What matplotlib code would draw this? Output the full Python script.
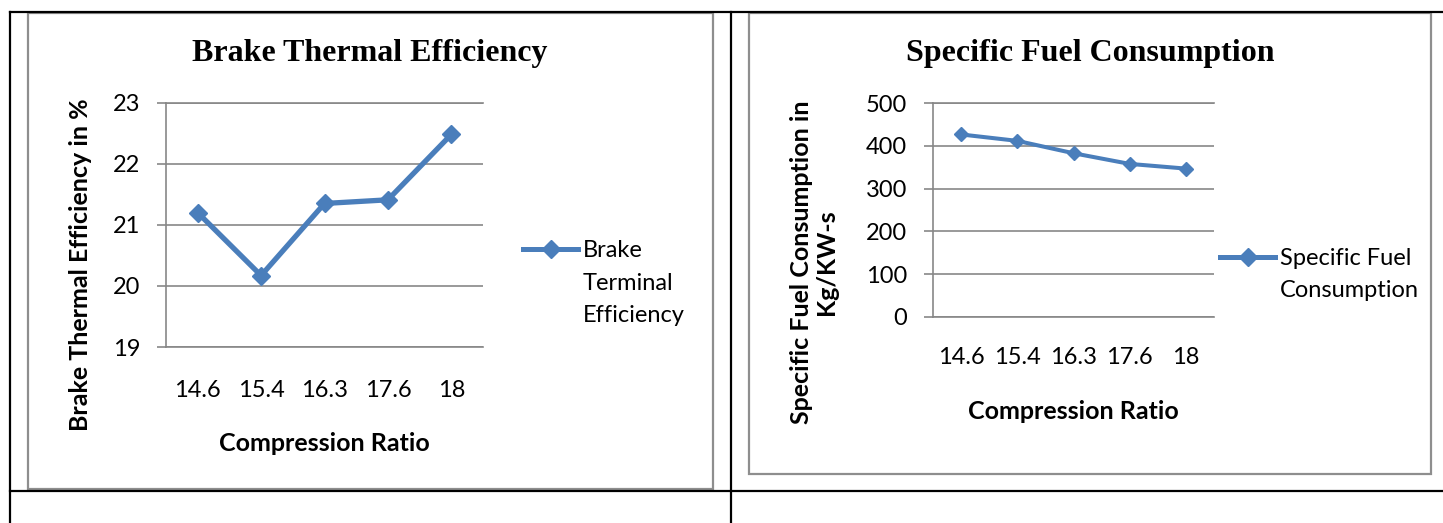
import matplotlib
matplotlib.use('Agg')
import matplotlib.pyplot as plt
from matplotlib.lines import Line2D
from matplotlib.patches import Rectangle

# data
ratios = ['14.6', '15.4', '16.3', '17.6', '18']
bte_values = [21.2, 20.17, 21.35, 21.41, 22.48]
sfc_values = [427, 412, 383, 358, 347]

W, H = 1443, 523
BLUE = '#4a7ebb'
GRID = '#878787'
plt.rcParams['font.family'] = ['Lato', 'DejaVu Sans']

fig = plt.figure(figsize=(W / 100, H / 100), dpi=100)


# add axes from pixel box (top-left origin)
def px_axes(x0, y0, x1, y1):
    return fig.add_axes([x0 / W, 1 - y1 / H, (x1 - x0) / W, (y1 - y0) / H])


def fx(x):
    return x / W


def fy(y):
    return 1 - y / H


# word table lines
for xs, ys in [([10, 10], [12, 523]), ([731, 731], [12, 523]),
               ([10, 1443], [12, 12]), ([10, 1443], [491, 491])]:
    fig.lines.append(Line2D([fx(v) for v in xs], [fy(v) for v in ys], color='black',
                            lw=1.6, transform=fig.transFigure))

# chart frames
for x0, y0, x1, y1 in [(28, 13, 713, 489), (749, 13, 1431, 474)]:
    fig.patches.append(Rectangle((fx(x0), fy(y1)), fx(x1) - fx(x0), fy(y0) - fy(y1),
                                 fill=False, ec='#8e8e8e', lw=1.6, transform=fig.transFigure))


def style_axes(ax, ylim, yticks, tick_pad, x_pad):
    ax.set_xlim(-0.5, len(ratios) - 0.5)
    ax.set_ylim(*ylim)
    ax.set_yticks(yticks)
    ax.set_xticks(range(len(ratios)))
    ax.set_xticklabels(ratios)
    ax.yaxis.grid(True, color=GRID, lw=1.2)
    ax.set_axisbelow(True)
    for side in ['top', 'bottom', 'left']:
        ax.spines[side].set_color(GRID)
        ax.spines[side].set_linewidth(1.2)
    ax.spines['right'].set_visible(False)
    ax.tick_params(axis='y', length=6.5, width=1.2, color=GRID, pad=tick_pad, labelsize=17)
    ax.tick_params(axis='x', length=0, pad=x_pad, labelsize=17)


def legend_entry(x0, x1, y, lines, baseline0, step):
    xm = (x0 + x1) / 2
    fig.lines.append(Line2D([fx(x0), fx(xm), fx(x1)], [fy(y)] * 3, color=BLUE, lw=3.6,
                            marker='D', markersize=9, markevery=[1], transform=fig.transFigure))
    for i, s in enumerate(lines):
        fig.text(fx(x1 + 5), fy(baseline0 + i * step), s, fontsize=17, va='baseline', ha='left')


# brake thermal efficiency
ax1 = px_axes(166, 102.7, 483, 347)
style_axes(ax1, (19, 23), [19, 20, 21, 22, 23], 12, 24)
ax1.plot(range(len(ratios)), bte_values, color=BLUE, lw=3.8, marker='D', markersize=9)
ax1.set_xlabel('Compression Ratio', fontsize=18, fontweight='bold', va='center')
ax1.xaxis.set_label_coords(0.5, -0.393)
ax1.set_ylabel('Brake Thermal Efficiency in %', fontsize=18, fontweight='bold', va='center', ha='center')
ax1.yaxis.set_label_coords(-0.27, 0.336)
fig.text(fx(370), fy(54), 'Brake Thermal Efficiency', family='Liberation Serif',
         fontweight='bold', fontsize=23, ha='center', va='center')
legend_entry(523, 578, 249, ['Brake', 'Terminal', 'Efficiency'], 257, 32.5)

# specific fuel consumption
ax2 = px_axes(933, 103.3, 1214, 316.7)
style_axes(ax2, (0, 500), [0, 100, 200, 300, 400, 500], 12, 22)
ax2.plot(range(len(ratios)), sfc_values, color=BLUE, lw=2.9, marker='D', markersize=7.5)
ax2.set_xlabel('Compression Ratio', fontsize=18, fontweight='bold', va='center')
ax2.xaxis.set_label_coords(0.5, -0.442)
ax2.set_ylabel('Specific Fuel Consumption in\nKg/KW-s', fontsize=18, fontweight='bold',
               va='center', ha='center', multialignment='center', linespacing=1.1)
ax2.yaxis.set_label_coords(-0.4235, 0.256)
fig.text(fx(1090), fy(54), 'Specific Fuel Consumption', family='Liberation Serif',
         fontweight='bold', fontsize=23, ha='center', va='center')
legend_entry(1220, 1275, 257, ['Specific Fuel', 'Consumption'], 265, 32)

fig.savefig('out.png', dpi=100)
